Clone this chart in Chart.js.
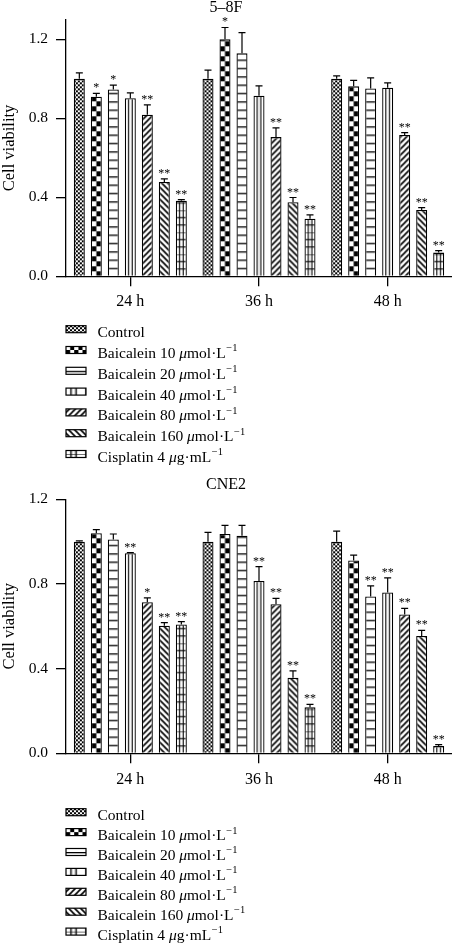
<!DOCTYPE html>
<html><head><meta charset="utf-8">
<script src="https://cdn.jsdelivr.net/npm/chart.js@4.4.1/dist/chart.umd.min.js"></script>
<style>
html,body{margin:0;padding:0;background:#fff;}
#wrap{position:relative;width:452px;height:943px;overflow:hidden;}
canvas{position:absolute;left:0;display:block;}
</style></head><body>
<div id="wrap">
<canvas id="c1" width="452" height="470" style="top:0px"></canvas>
<canvas id="c2" width="452" height="473" style="top:470px"></canvas>
</div>
<script>
// ---------- DATA ----------
const categories = ['24 h', '36 h', '48 h'];
const seriesNames = ['Control', 'Baicalein 10 μmol·L⁻¹', 'Baicalein 20 μmol·L⁻¹', 'Baicalein 40 μmol·L⁻¹',
  'Baicalein 80 μmol·L⁻¹', 'Baicalein 160 μmol·L⁻¹', 'Cisplatin 4 μg·mL⁻¹'];
const yTickValues = [0, 0.4, 0.8, 1.2];

// 5-8F panel
const f58Control = [1.000, 1.000, 1.000];
const f58Bai10   = [0.909, 1.200, 0.962];
const f58Bai20   = [0.946, 1.129, 0.951];
const f58Bai40   = [0.902, 0.914, 0.955];
const f58Bai80   = [0.818, 0.705, 0.716];
const f58Bai160  = [0.478, 0.375, 0.336];
const f58Cis     = [0.382, 0.292, 0.120];
const f58ControlErr = [0.030, 0.044, 0.015];
const f58Bai10Err   = [0.017, 0.060, 0.030];
const f58Bai20Err   = [0.022, 0.105, 0.054];
const f58Bai40Err   = [0.027, 0.050, 0.025];
const f58Bai80Err   = [0.050, 0.047, 0.012];
const f58Bai160Err  = [0.015, 0.024, 0.012];
const f58CisErr     = [0.006, 0.019, 0.010];
const f58ControlSig = ['', '', ''];
const f58Bai10Sig   = ['*', '*', ''];
const f58Bai20Sig   = ['*', '', ''];
const f58Bai40Sig   = ['', '', ''];
const f58Bai80Sig   = ['**', '**', '**'];
const f58Bai160Sig  = ['**', '**', '**'];
const f58CisSig     = ['**', '**', '**'];

// CNE2 panel
const cneControl = [1.000, 1.000, 1.000];
const cneBai10   = [1.040, 1.036, 0.911];
const cneBai20   = [1.010, 1.028, 0.741];
const cneBai40   = [0.945, 0.814, 0.760];
const cneBai80   = [0.714, 0.704, 0.656];
const cneBai160  = [0.603, 0.357, 0.554];
const cneCis     = [0.609, 0.217, 0.034];
const cneControlErr = [0.004, 0.044, 0.050];
const cneBai10Err   = [0.017, 0.041, 0.025];
const cneBai20Err   = [0.026, 0.049, 0.050];
const cneBai40Err   = [0.003, 0.068, 0.069];
const cneBai80Err   = [0.020, 0.028, 0.029];
const cneBai160Err  = [0.014, 0.032, 0.027];
const cneCisErr     = [0.013, 0.014, 0.007];
const cneControlSig = ['', '', ''];
const cneBai10Sig   = ['', '', ''];
const cneBai20Sig   = ['', '', '**'];
const cneBai40Sig   = ['**', '**', '**'];
const cneBai80Sig   = ['*', '**', '**'];
const cneBai160Sig  = ['**', '**', '**'];
const cneCisSig     = ['**', '**', '**'];

// ---------- PATTERNS ----------
const FONT = '"Liberation Serif", "Times New Roman", serif';
const CAT_PCT = 0.925, BAR_PCT = 0.647;
const patternKinds = ['checkFine', 'checkBig', 'hlines', 'vlines', 'diagUp', 'diagDown', 'grid'];

function makePattern(kind, tx, ty, sx) {
  const c = document.createElement('canvas');
  const g = c.getContext('2d');
  const sizes = { checkFine: [4, 4], checkBig: [11, 10], hlines: [11, 25], vlines: [11, 4],
                  diagUp: [6, 6], diagDown: [6, 6], grid: [11, 22] };
  const [w, h] = sizes[kind];
  c.width = w; c.height = h;
  g.fillStyle = '#fff'; g.fillRect(0, 0, w, h);
  g.fillStyle = '#000'; g.strokeStyle = '#000';
  switch (kind) {
    case 'checkFine':
      g.fillRect(0, 0, 2, 2); g.fillRect(2, 2, 2, 2); break;
    case 'checkBig':
      g.fillRect(0, 0, 5.5, 5); g.fillRect(5.5, 5, 5.5, 5); break;
    case 'hlines':
      [0, 8.33, 16.67].forEach(y => g.fillRect(0, y, w, 1.3)); break;
    case 'vlines':
      [3.67, 7.33].forEach(x => g.fillRect(x - 0.55, 0, 1.1, h)); break;
    case 'diagUp':
      g.lineWidth = 1.6;
      g.beginPath(); g.moveTo(-1, 7); g.lineTo(7, -1);
      g.moveTo(-1, 1); g.lineTo(1, -1); g.moveTo(5, 7); g.lineTo(7, 5); g.stroke(); break;
    case 'diagDown':
      g.lineWidth = 1.6;
      g.beginPath(); g.moveTo(-1, -1); g.lineTo(7, 7);
      g.moveTo(-1, 5); g.lineTo(1, 7); g.moveTo(5, -1); g.lineTo(7, 1); g.stroke(); break;
    case 'grid':
      [3.67, 7.33].forEach(x => g.fillRect(x - 0.55, 0, 1.1, h));
      [0, 7.33, 14.67].forEach(y => g.fillRect(0, y - 0.55, w, 1.1)); break;
  }
  const p = g.createPattern(c, 'repeat');
  let m = new DOMMatrix().translate(tx || 0, ty || 0);
  if (sx) m = m.scale(sx, 1);
  p.setTransform(m);
  return p;
}

function barFill(kind) {
  return (c) => {
    const chart = c.chart;
    const xs = chart.scales.x;
    if (c.type !== 'data' || !xs || !chart.chartArea) return makePattern(kind, 0, 0);
    const n = chart.data.datasets.length;
    const catW = xs.width / chart.data.labels.length;
    const slot = catW * CAT_PCT / n;
    const cx = xs.getPixelForValue(c.dataIndex) + (c.datasetIndex - (n - 1) / 2) * slot;
    const left = cx - slot * BAR_PCT / 2;
    return makePattern(kind, left, chart.chartArea.bottom);
  };
}

// ---------- PLUGINS ----------
const errStarPlugin = {
  id: 'errStars',
  afterDatasetsDraw(chart) {
    const ctx = chart.ctx, ys = chart.scales.y;
    ctx.save();
    chart.data.datasets.forEach((d, di) => {
      const meta = chart.getDatasetMeta(di);
      meta.data.forEach((bar, i) => {
        const v = d.data[i], e = d.errors[i];
        const yTop = ys.getPixelForValue(v + e);
        ctx.strokeStyle = '#000'; ctx.lineWidth = 1.2;
        if (e > 0.002) {
          ctx.beginPath();
          ctx.moveTo(bar.x, bar.y); ctx.lineTo(bar.x, yTop);
          ctx.moveTo(bar.x - 3.5, yTop); ctx.lineTo(bar.x + 3.5, yTop);
          ctx.stroke();
        }
        if (d.sig[i]) {
          ctx.fillStyle = '#000';
          ctx.font = '12px ' + FONT;
          ctx.textAlign = 'center'; ctx.textBaseline = 'alphabetic';
          ctx.fillText(d.sig[i], bar.x, yTop - 2);
        }
      });
    });
    ctx.restore();
  }
};

function drawRich(ctx, text, x, y, size) {
  const parts = text.split(/(μ|⁻¹)/).filter(s => s.length);
  let cx = x;
  ctx.textAlign = 'left'; ctx.textBaseline = 'alphabetic'; ctx.fillStyle = '#000';
  for (const p of parts) {
    if (p === 'μ') {
      ctx.font = 'italic ' + size + 'px ' + FONT;
      ctx.fillText(p, cx, y); cx += ctx.measureText(p).width;
    } else if (p === '⁻¹') {
      ctx.font = (size * 0.68) + 'px ' + FONT;
      ctx.fillText('−1', cx + 0.5, y - size * 0.42); cx += ctx.measureText('−1').width + 0.5;
    } else {
      ctx.font = size + 'px ' + FONT;
      ctx.fillText(p, cx, y); cx += ctx.measureText(p).width;
    }
  }
}

const patLegendPlugin = {
  id: 'patLegend',
  afterDraw(chart, args, opts) {
    const ctx = chart.ctx;
    const base = chart.chartArea.bottom + opts.offset;
    ctx.save();
    chart.data.datasets.forEach((d, i) => {
      const top = base + i * opts.step;
      const kind = patternKinds[i];
      const sx = (kind === 'vlines' || kind === 'grid') ? 1.364 : (kind === 'checkBig' ? 0.75 : 0);
      ctx.fillStyle = makePattern(kind, 66, top + 3.5, sx);
      ctx.fillRect(66, top, 20, 7);
      ctx.strokeStyle = '#000'; ctx.lineWidth = 1.2;
      ctx.strokeRect(66, top, 20, 7);
      drawRich(ctx, d.label, 97.5, top + 11.5, 15.5);
    });
    ctx.restore();
  }
};

// ---------- CHART BUILDER ----------
function buildChart(id, title, yMax, vals, errs, sigs, cfg) {
  const datasets = seriesNames.map((name, i) => ({
    label: name,
    data: vals[i],
    errors: errs[i],
    sig: sigs[i],
    backgroundColor: barFill(patternKinds[i]),
    borderColor: '#000',
    borderWidth: 1.3,
    categoryPercentage: CAT_PCT,
    barPercentage: BAR_PCT
  }));
  return new Chart(document.getElementById(id), {
    type: 'bar',
    data: { labels: categories, datasets },
    plugins: [errStarPlugin, patLegendPlugin],
    options: {
      responsive: false,
      animation: false,
      devicePixelRatio: 1,
      layout: { padding: 0 },
      plugins: {
        legend: { display: false },
        tooltip: { enabled: false },
        title: {
          display: true, text: title, color: '#000',
          font: { family: FONT, size: 16, weight: 'normal', lineHeight: 0.8 },
          padding: { top: cfg.titleTop, bottom: cfg.titleBottom }
        },
        patLegend: { offset: cfg.legOffset, step: cfg.legStep }
      },
      scales: {
        x: {
          afterFit: s => { s.height = cfg.xHeight; },
          ticks: { color: '#000', font: { family: FONT, size: 16 }, padding: cfg.xPad, maxRotation: 0 },
          grid: { offset: false, drawOnChartArea: false, drawTicks: true, tickLength: 10, color: '#000', lineWidth: 1.3 },
          border: { display: true, color: '#000', width: 1.3 }
        },
        y: {
          min: 0, max: yMax,
          afterBuildTicks: s => { s.ticks = yTickValues.map(v => ({ value: v })); },
          afterFit: s => { s.width = 66; },
          ticks: { color: '#000', font: { family: FONT, size: 15.5 }, padding: 8, callback: v => Number(v).toFixed(1) },
          grid: { drawOnChartArea: false, drawTicks: true, tickLength: 10, color: '#000', lineWidth: 1.3 },
          border: { display: true, color: '#000', width: 1.3 },
          title: { display: true, text: 'Cell viability', color: '#000', font: { family: FONT, size: 16.5 }, padding: { top: 0, bottom: 0 } }
        }
      }
    }
  });
}

buildChart('c1', '5–8F', 1.3,
  [f58Control, f58Bai10, f58Bai20, f58Bai40, f58Bai80, f58Bai160, f58Cis],
  [f58ControlErr, f58Bai10Err, f58Bai20Err, f58Bai40Err, f58Bai80Err, f58Bai160Err, f58CisErr],
  [f58ControlSig, f58Bai10Sig, f58Bai20Sig, f58Bai40Sig, f58Bai80Sig, f58Bai160Sig, f58CisSig],
  { titleTop: 1.5, titleBottom: 5.3, xHeight: 193.7, xPad: 5.4, legOffset: 49.4, legStep: 20.8 });

buildChart('c2', 'CNE2', 1.2,
  [cneControl, cneBai10, cneBai20, cneBai40, cneBai80, cneBai160, cneCis],
  [cneControlErr, cneBai10Err, cneBai20Err, cneBai40Err, cneBai80Err, cneBai160Err, cneCisErr],
  [cneControlSig, cneBai10Sig, cneBai20Sig, cneBai40Sig, cneBai80Sig, cneBai160Sig, cneCisSig],
  { titleTop: 8.2, titleBottom: 8.3, xHeight: 189.7, xPad: 6.7, legOffset: 55.4, legStep: 19.9 });
</script>
</body></html>
